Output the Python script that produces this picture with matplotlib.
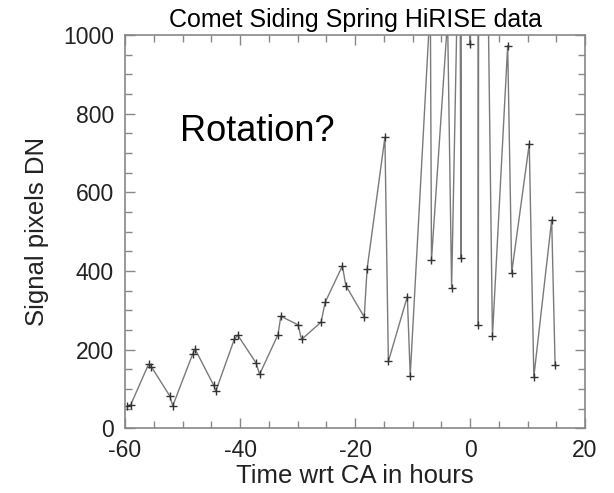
import matplotlib
matplotlib.use("Agg")
import matplotlib.pyplot as plt
from matplotlib.ticker import MultipleLocator

plt.rcParams['font.family'] = ['Liberation Sans', 'DejaVu Sans']
plt.rcParams['axes.unicode_minus'] = False

# time relative to closest approach (hours) and signal (DN)
hours = [-59.6, -59.0, -55.9, -55.4, -52.2, -51.7, -48.2, -47.8, -44.6, -44.2,
         -41.0, -40.4, -37.2, -36.6, -33.4, -32.9, -29.9, -29.3, -25.9, -25.2,
         -22.2, -21.6, -18.4, -17.9, -14.8, -14.2, -10.9, -10.4, -6.9, -6.7,
         -3.9, -3.2, -1.8, -1.55, -1.0, 0.0, 0.8, 1.44, 1.6, 3.9,
         6.55, 7.25, 10.3, 11.1, 14.2, 14.8]
signal = [57, 60, 163, 156, 82, 57, 190, 201, 110, 95,
          226, 237, 166, 137, 238, 285, 263, 226, 270, 320,
          413, 363, 283, 405, 740, 170, 335, 134, 1080, 428,
          1040, 358, 1400, 432, 20000, 976, 20000, 262, 2850, 234,
          973, 396, 723, 131, 530, 160]

fig = plt.figure(figsize=(6.14, 4.93), dpi=100)
ax = fig.add_axes([0.2036, 0.1312, 0.7492, 0.7978])

ax.plot(hours, signal, color='#7a7a7a', lw=1.0, marker='+', ms=6,
        mec='#333333', mew=1.0)

ax.set_xlim(-60, 20)
ax.set_ylim(0, 1000)
ax.xaxis.set_major_locator(MultipleLocator(20))
ax.xaxis.set_minor_locator(MultipleLocator(5))
ax.yaxis.set_major_locator(MultipleLocator(200))
ax.yaxis.set_minor_locator(MultipleLocator(50))
ax.tick_params(which='both', direction='in', top=True, right=True,
               color='#888888', width=1.0, labelsize=16.5, labelcolor='#222222')
ax.tick_params(which='major', length=7)
ax.tick_params(axis='x', which='major', pad=8)
ax.tick_params(axis='y', which='major', pad=8)
ax.tick_params(which='minor', length=5)
for s in ax.spines.values():
    s.set_color('#888888')
    s.set_linewidth(1.2)

ax.set_title("Comet Siding Spring HiRISE data", fontsize=18, pad=6)
ax.set_xlabel("Time wrt CA in hours", fontsize=18.5, color='#222222', labelpad=1)
ax.set_ylabel("Signal pixels DN", fontsize=18.5, color='#222222', labelpad=10)
ax.text(-37, 754, "Rotation?", fontsize=26, ha='center', va='center')

fig.savefig("out.png", dpi=100)
